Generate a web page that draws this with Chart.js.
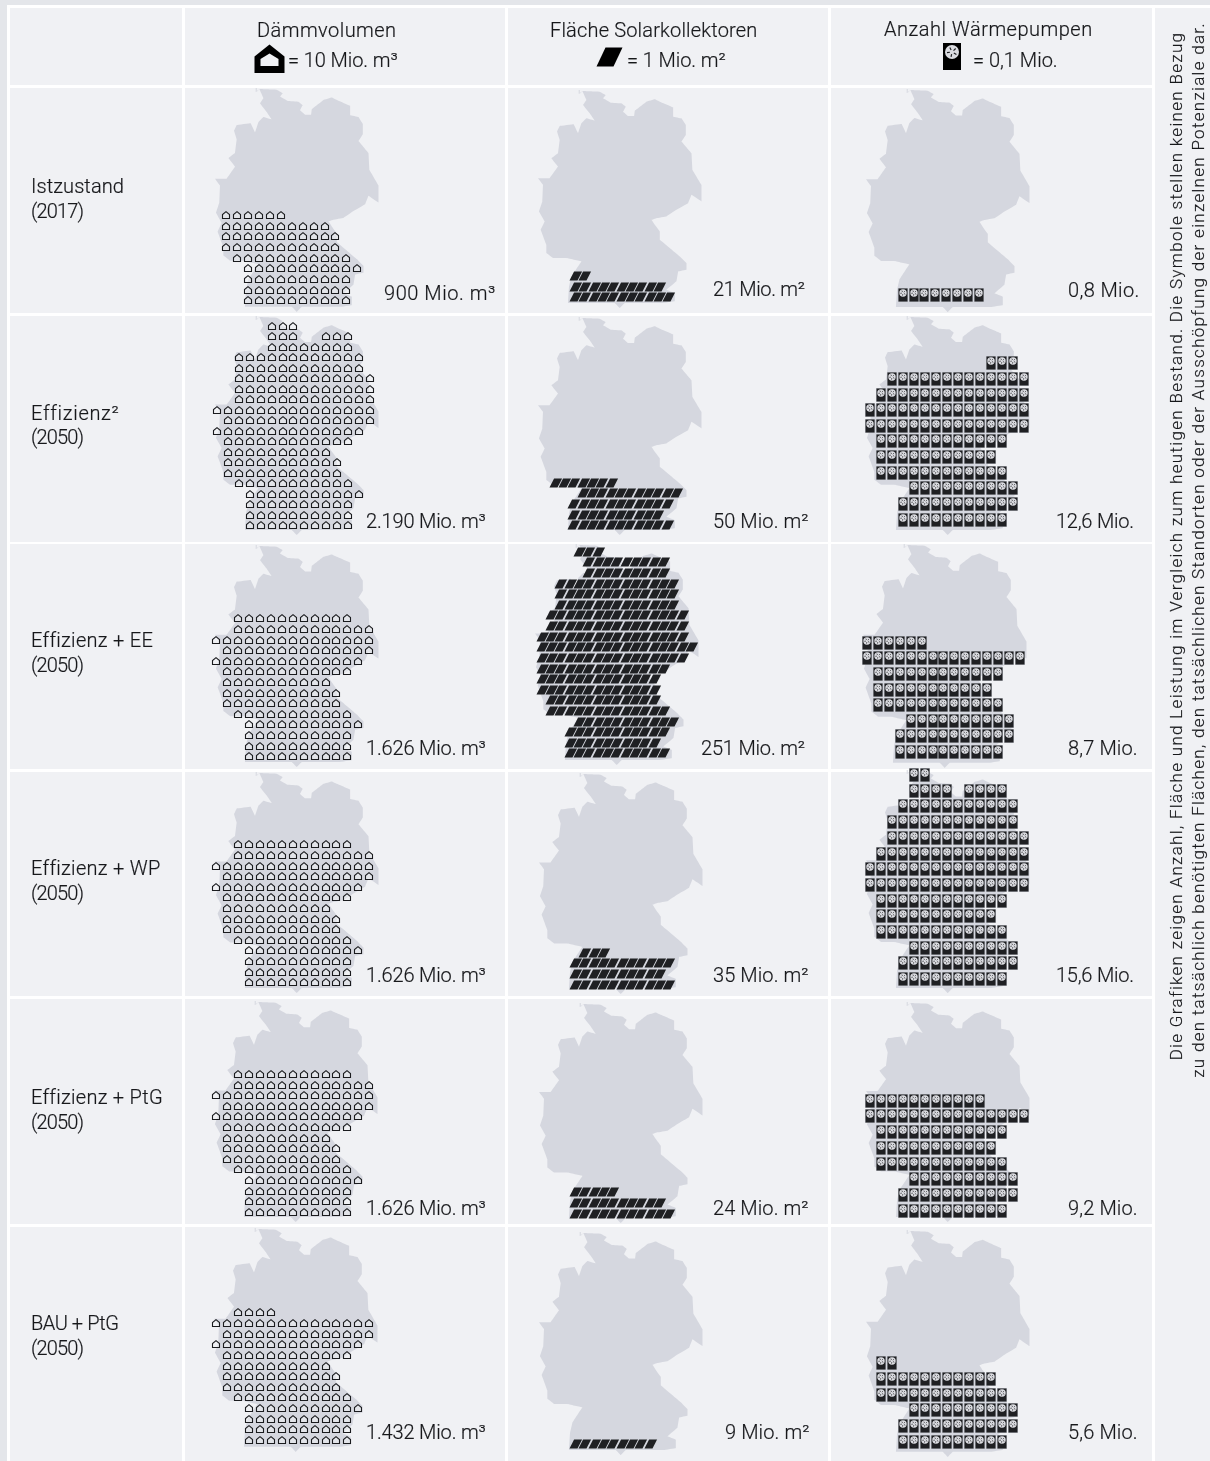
<!DOCTYPE html>
<html lang="de">
<head>
<meta charset="utf-8">
<title>Dämmvolumen, Solarkollektoren, Wärmepumpen</title>
<script src="https://cdn.jsdelivr.net/npm/chart.js@4"></script>
<style>
html,body{margin:0;padding:0;background:#e4e6ea;}
#sheet{position:relative;width:1210px;height:1461px;overflow:hidden;background:#fff;}
#sheet canvas{position:absolute;left:0;top:0;}
.band{position:absolute;}
.t{position:absolute;white-space:nowrap;font-family:Roboto,"Noto Sans",sans-serif;font-weight:300;color:#17181b;line-height:1.1;-webkit-text-stroke:.2px #17181b;}
</style>
</head>
<body>
<div id="sheet"></div>
<script>
/* ---------- values ---------- */
const scenarios = ["Istzustand\n(2017)","Effizienz²\n(2050)","Effizienz + EE\n(2050)","Effizienz + WP\n(2050)","Effizienz + PtG\n(2050)","BAU + PtG\n(2050)"];
const columnTitles = ["Dämmvolumen","Fläche Solarkollektoren","Anzahl Wärmepumpen"];
const legendNotes = ["= 10 Mio. m³","= 1 Mio. m²","= 0,1 Mio."];
const daemmLabels = ["900 Mio. m³","2.190 Mio. m³","1.626 Mio. m³","1.626 Mio. m³","1.626 Mio. m³","1.432 Mio. m³"];
const solarLabels = ["21 Mio. m²","50 Mio. m²","251 Mio. m²","35 Mio. m²","24 Mio. m²","9 Mio. m²"];
const pumpLabels = ["0,8 Mio.","12,6 Mio.","8,7 Mio.","15,6 Mio.","9,2 Mio.","5,6 Mio."];
const noteLines = ["Die Grafiken zeigen Anzahl, Fläche und Leistung im Vergleich zum heutigen Bestand. Die Symbole stellen keinen Bezug",
 "zu den tatsächlich benötigten Flächen, den tatsächlichen Standorten oder der Ausschöpfung der einzelnen Potenziale dar."];

/* symbol rows: [first grid column, symbols, (first, symbols) ...] top to bottom */
const daemmIst = [[1,6],[1,10],[1,11],[1,11],[2,11],[3,11],[3,10],[3,10],[3,10]];
const daemmEff2 = [[5,3],[5,3,10,3],[5,8],[2,12],[2,12],[2,13],[2,13],[2,13],[0,15],[1,14],[0,14],[1,12],[1,10],[1,11],[1,11],[2,11],[3,11],[3,10],[3,10],[3,10]];
const daemmEE = [[2,11],[2,13],[0,15],[1,14],[0,14],[1,12],[1,10],[1,11],[1,11],[2,11],[3,11],[3,10],[3,10],[3,10]];
const daemmWP = [[2,11],[2,13],[0,15],[1,14],[0,14],[1,12],[1,10],[1,11],[1,11],[2,11],[3,11],[3,10],[3,10],[3,10]];
const daemmPtG = [[2,11],[2,13],[0,15],[1,14],[0,14],[1,12],[1,10],[1,11],[1,11],[2,11],[3,11],[3,10],[3,10],[3,10]];
const daemmBAU = [[2,4],[0,15],[1,14],[0,14],[1,12],[1,10],[1,11],[1,11],[2,11],[3,11],[3,10],[3,10],[3,10]];

const solarIst = [[3,2],[3,10],[3,11]];
const solarEff2 = [[1,7],[4,11],[3,11],[3,10],[3,11]];
const solarEE = [[4,3],[5,9],[5,9],[2,13],[2,13],[2,13],[1,15],[1,15],[0,16],[0,17],[0,16],[0,14],[0,13],[0,13],[1,12],[1,13],[4,11],[3,11],[3,10],[3,11]];
const solarWP = [[4,3],[3,11],[3,10],[3,11]];
const solarPtG = [[3,5],[3,10],[3,11]];
const solarBAU = [[3,9]];

const pumpIst = [[3,8]];
const pumpEff2 = [[11,3],[2,13],[1,14],[0,15],[0,15],[1,12],[1,11],[1,12],[4,10],[3,11],[3,10]];
const pumpEE = [[0,6],[0,15],[1,12],[1,11],[1,12],[4,10],[3,11],[3,10]];
const pumpWP = [[4,2],[4,4,9,4],[3,11],[2,12],[2,13],[1,14],[0,15],[0,15],[1,12],[1,11],[1,12],[4,10],[3,11],[3,10]];
const pumpPtG = [[0,11],[0,15],[1,12],[1,11],[1,12],[4,10],[3,11],[3,10]];
const pumpBAU = [[1,2],[1,11],[1,12],[4,10],[3,11],[3,10]];

/* silhouette of Germany */
const outlineX = [237,240,240,248,300,318,310,333,365,378,370,385,403,405,440,465,480,520,520,545,558,558,545,575,578,605,605,575,565,530,500,470,455,465,480,480,540,560,560,535,530,500,525,525,490,375,360,345,205,208,215,245,200,160,140,140,123,135,118,128,130,115,150,175,155,175,180,172,180,222,235,245,260,285,270,250,260,248,237];
const outlineY = [0,0,12,3,5,15,25,38,40,50,65,78,78,62,35,28,35,52,80,85,105,135,155,190,240,285,335,315,340,360,380,385,390,405,425,450,500,520,540,545,575,600,610,635,640,640,655,640,640,590,560,515,505,505,490,465,420,395,365,335,285,265,265,230,205,190,150,125,108,103,130,100,85,92,70,45,30,3,12];

/* ---------- layout of the sheet ---------- */
const colEdges = [[10,182],[185,505],[508,827.5],[831,1151.5]];
const rowEdges = [[8,85],[88,313],[316,541.5],[544,768.5],[771.5,996],[999,1223.5],[1226.5,1461]];
const maps = [ /* left, top, bottom per row, per column */
 [[215,88,312],[538,90,308],[866,89,312]],
 [[215,316,535],[538,317,535],[866,316,535]],
 [[215,545,767],[535,544,765],[863,544,768]],
 [[215,772,993],[539,773,994],[866,770,993]],
 [[214,1001,1222],[539,1003,1223],[866,1002,1222]],
 [[214,1228,1452],[539,1232,1455],[866,1230,1457]]
];
const houseGrids = [[215,215,10.95,10.65],[216.7,325.7,10.97,10.5],[216,618.3,10.95,10.6],[216,844.3,10.95,10.6],[216,1074,10.95,10.6],[216,1312.3,10.95,10.64]];
const solarGrids = [[548,276,9.33,10.65],[546.3,482.7,9.33,10.65],[542.7,551.7,9.33,10.62],[548,952.7,9.33,10.67],[548,1192.3,9.33,10.7],[548,1444,9.33,10.6]];
const pumpGrids = [[869.7,295,10.95,15.7],[869.6,363.3,11,15.63],[867.3,642.7,10.88,15.62],[869.7,775,11,15.7],[869.7,1100.7,11,15.7],[869.7,1363.3,11,15.7]];
const TEXT = 20;
const headerText = [[257,30,140],[550,30,208],[884,29,209]];
const noteText = [[288,60,110],[627,60,99],[973,60,85]];
const scenarioY = [[186,211],[413,437],[640,665],[868,893],[1097,1122],[1323,1348]];
const scenarioW = [[93,52],[87,52],[121,52],[129,52],[131,52],[87,52]];
const daemmPos = [[384,293,112],[366,521,120],[366,748,120],[366,975,120],[366,1208,120],[366,1432,120]];
const solarPos = [[713,289,92],[713,521,96],[701,748,104],[713,975,96],[713,1208,96],[725,1432,85]];
const pumpPos = [[1068,290,72],[1056,521,78],[1068,748,70],[1056,975,78],[1068,1208,70],[1068,1432,70]];
const legendAt = [[269.5,59],[609.5,57],[952,56.5]];

/* ---------- symbols ---------- */
const INK = "#1f2023", CELL = "#f0f1f4", LAND = "#d5d7df";
function sym(w,h,fn){const c=document.createElement("canvas");c.width=w;c.height=h;fn(c.getContext("2d"));return c;}
function poly(g,p){g.beginPath();p.forEach((q,i)=>i?g.lineTo(q[0],q[1]):g.moveTo(q[0],q[1]));g.closePath();}
const houseSym = sym(10,8,g=>{poly(g,[[1.5,7.5],[1.5,3.6],[5,.7],[8.5,3.6],[8.5,7.5]]);g.fillStyle="rgba(240,241,244,.5)";g.fill();g.lineWidth=1.1;g.strokeStyle="#1a1b1e";g.stroke();});
const panelSym = sym(16,10,g=>{poly(g,[[1.5,9.5],[6.1,.5],[14.1,.5],[9.5,9.5]]);g.fillStyle=INK;g.fill();});
function fan(g,x,y,r){g.beginPath();g.arc(x,y,r,0,7);g.fillStyle="#dcdde2";g.fill();g.strokeStyle=INK;g.lineWidth=Math.max(.7,r/6);for(let a=0;a<5;a++){const t=a*1.257+.5;g.beginPath();g.moveTo(x+Math.cos(t)*r*.3,y+Math.sin(t)*r*.3);g.lineTo(x+Math.cos(t)*r*.72,y+Math.sin(t)*r*.72);g.stroke();}}
const pumpSym = sym(10,14,g=>{g.fillStyle="rgba(170,172,180,.7)";g.fillRect(0,0,10,14);g.fillStyle=INK;g.fillRect(.5,.5,9,13);fan(g,5,5,3.7);});
const houseKey = sym(31,30,g=>{poly(g,[[.5,29],[.5,12.5],[15.5,.5],[30.5,12.5],[30.5,29]]);g.fillStyle="#000";g.fill();poly(g,[[6.5,22],[6.5,15],[15.5,9.5],[24.5,15],[24.5,22]]);g.fillStyle=CELL;g.fill();});
const panelKey = sym(27,20,g=>{poly(g,[[.5,19.5],[9.5,.5],[26.5,.5],[17.5,19.5]]);g.fillStyle="#000";g.fill();});
const pumpKey = sym(18,27,g=>{g.fillStyle="#000";g.fillRect(0,0,18,27);fan(g,9,9,7);});

/* ---------- sheet background and text ---------- */
const sheet = document.getElementById("sheet");
function band(x0,y0,x1,y1,c){const d=document.createElement("div");d.className="band";d.style.cssText=`left:${x0}px;top:${y0}px;width:${x1-x0}px;height:${y1-y0}px;background:${c}`;sheet.appendChild(d);}
band(0,0,1210,5,"#e4e6ea");band(0,0,7,1461,"#e4e6ea");
colEdges.forEach(c=>rowEdges.forEach(r=>band(c[0],r[0],c[1],r[1],CELL)));
band(1155,8,1210,1461,CELL);
const chartCanvas = document.createElement("canvas");
chartCanvas.width=1210;chartCanvas.height=1461;chartCanvas.style.width="1210px";chartCanvas.style.height="1461px";
sheet.appendChild(chartCanvas);
function text(str,x,y,w,size){const s=document.createElement("div");s.className="t";s.textContent=str;s.style.fontSize=(size||TEXT)+"px";sheet.appendChild(s);
 if(w){const nat=s.offsetWidth;s.style.letterSpacing=((w-nat)/str.length)+"px";}
 s.style.left=x+"px";s.style.top=y+"px";s.style.transform="translateY(-50%)";return s;}
columnTitles.forEach((t,i)=>text(t,headerText[i][0],headerText[i][1],headerText[i][2]));
legendNotes.forEach((t,i)=>text(t,noteText[i][0],noteText[i][1],noteText[i][2]));
scenarios.forEach((t,i)=>{const p=t.split("\n");text(p[0],31,scenarioY[i][0],scenarioW[i][0]);text(p[1],31,scenarioY[i][1],scenarioW[i][1]);});
[[daemmLabels,daemmPos],[solarLabels,solarPos],[pumpLabels,pumpPos]].forEach(([l,p])=>l.forEach((t,i)=>text(t,p[i][0],p[i][1],p[i][2])));
[[1176,546,1028],[1198,550,1056]].forEach((n,i)=>{const s=text(noteLines[i],0,0,n[2],17);s.style.left=n[0]+"px";s.style.top=n[1]+"px";s.style.transform="translate(-50%,-50%) rotate(-90deg)";});

/* ---------- chart ---------- */
function expand(rows,grid){const pts=[];rows.forEach((row,r)=>{for(let i=0;i<row.length;i+=2)for(let n=0;n<row[i+1];n++)pts.push({x:Math.round(grid[0]+(row[i]+n)*grid[2]),y:Math.round(grid[1]+r*grid[3])});});return pts;}
function symbols(rows,grid,style){return {type:"scatter",data:expand(rows,grid),pointStyle:style,pointRadius:5,showLine:false};}
const datasets=[];
[daemmIst,daemmEff2,daemmEE,daemmWP,daemmPtG,daemmBAU].forEach((r,i)=>datasets.push(symbols(r,houseGrids[i],houseSym)));
[solarIst,solarEff2,solarEE,solarWP,solarPtG,solarBAU].forEach((r,i)=>datasets.push(symbols(r,solarGrids[i],panelSym)));
[pumpIst,pumpEff2,pumpEE,pumpWP,pumpPtG,pumpBAU].forEach((r,i)=>datasets.push(symbols(r,pumpGrids[i],pumpSym)));
[houseKey,panelKey,pumpKey].forEach((s,i)=>datasets.push({type:"scatter",data:[{x:legendAt[i][0],y:legendAt[i][1]}],pointStyle:s,pointRadius:5,showLine:false}));
const oMinX=115,oMaxX=605,oMaxY=655,mapW=163.5;
maps.forEach(row=>row.forEach(m=>{
 datasets.push({type:"scatter",showLine:true,pointRadius:0,borderWidth:0,tension:0.0001,fill:"shape",backgroundColor:LAND,borderColor:LAND,
  data:outlineX.map((v,i)=>({x:m[0]+(v-oMinX)/(oMaxX-oMinX)*mapW,y:m[1]+outlineY[i]/oMaxY*(m[2]-m[1])}))});
}));
new Chart(chartCanvas,{type:"scatter",data:{datasets},options:{
 responsive:false,animation:false,events:[],
 layout:{padding:0,autoPadding:false},
 plugins:{legend:{display:false},tooltip:{enabled:false},title:{display:false}},
 scales:{x:{type:"linear",min:0,max:1210,display:false},y:{type:"linear",min:0,max:1461,reverse:true,display:false}}
}});
</script>
</body>
</html>
